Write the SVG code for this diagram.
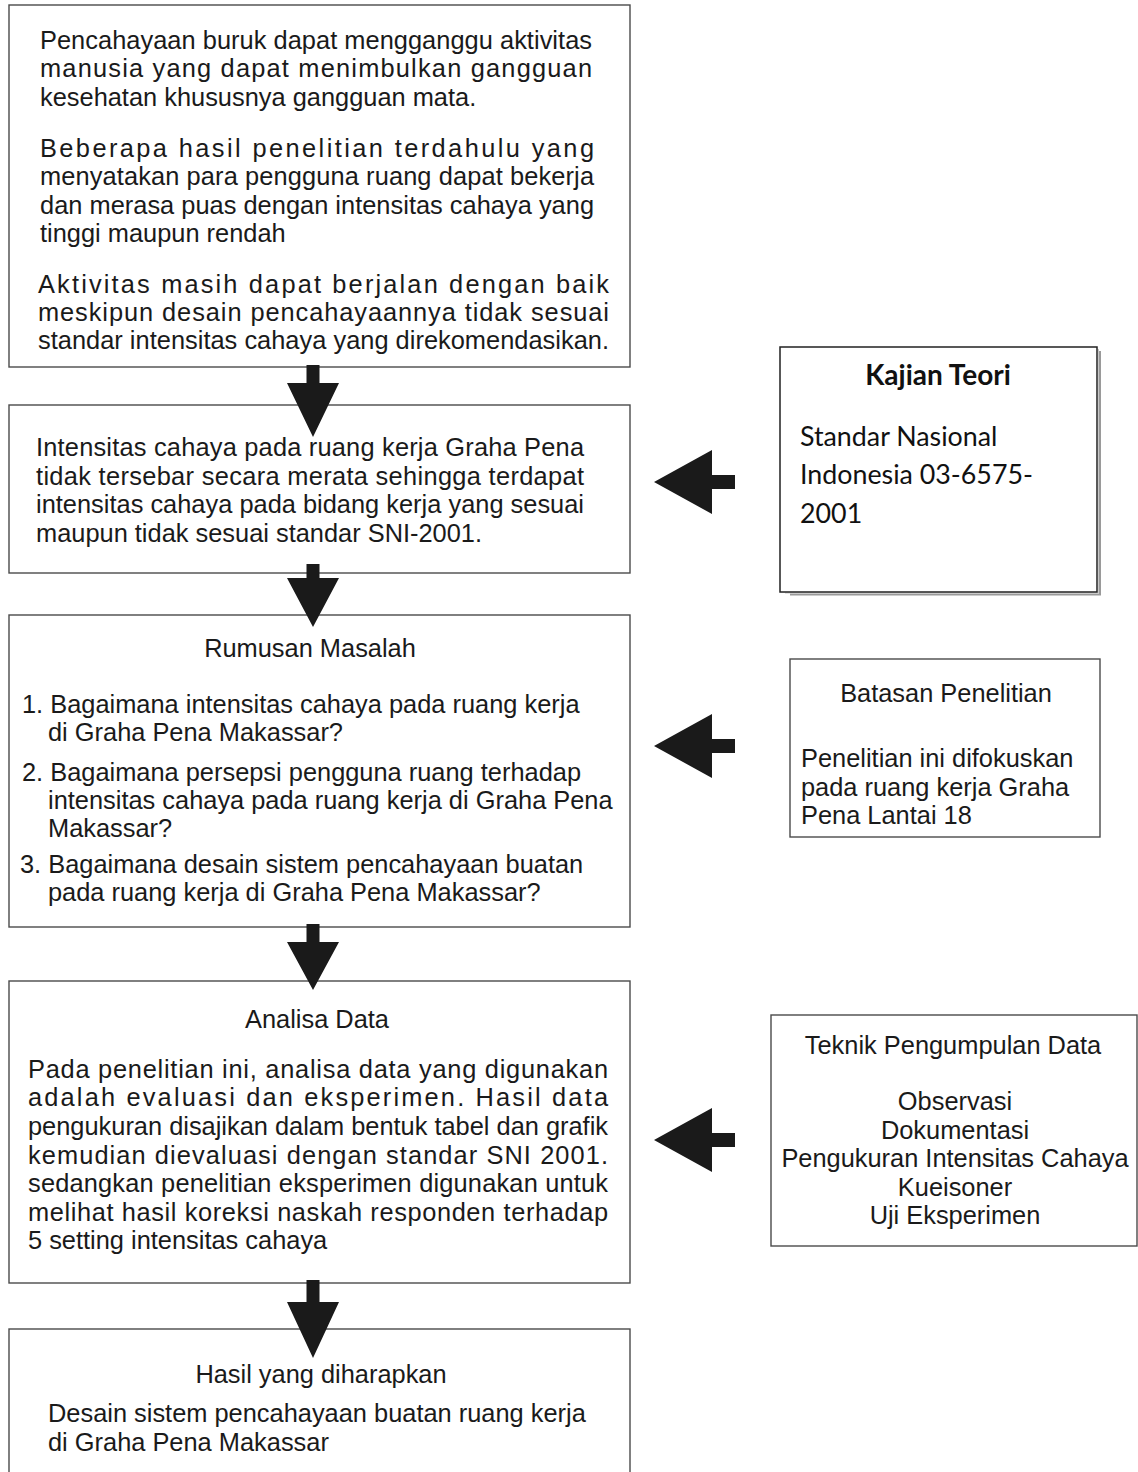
<svg xmlns="http://www.w3.org/2000/svg" width="1138" height="1472" viewBox="0 0 1138 1472">
<style>
.box{fill:#fff;stroke:#4a4a4a;stroke-width:1.4}
.t{font-family:"Liberation Sans",Arial,sans-serif;font-size:25.4px;fill:#1a1a1a}
.c{text-anchor:middle}
.k{font-family:Lato,"Open Sans",sans-serif;font-size:26.8px;fill:#111}
.kb{font-weight:bold;font-size:28px}
.arr{fill:#1a1a1a}
</style>
<rect width="1138" height="1472" fill="#fff"/>
<g id="node-masalah-awal">
<rect class="box" x="9" y="5" width="621" height="362"/>
<text class="t" x="40" y="49" textLength="552" lengthAdjust="spacing">Pencahayaan buruk dapat mengganggu aktivitas</text>
<text class="t" x="40" y="77" textLength="552" lengthAdjust="spacing">manusia yang dapat menimbulkan gangguan</text>
<text class="t" x="40" y="106">kesehatan khususnya gangguan mata.</text>
<text class="t" x="40" y="157" textLength="554" lengthAdjust="spacing">Beberapa hasil penelitian terdahulu yang</text>
<text class="t" x="40" y="185" textLength="554" lengthAdjust="spacing">menyatakan para pengguna ruang dapat bekerja</text>
<text class="t" x="40" y="214" textLength="554" lengthAdjust="spacing">dan merasa puas dengan intensitas cahaya yang</text>
<text class="t" x="40" y="242">tinggi maupun rendah</text>
<text class="t" x="38" y="293" textLength="571" lengthAdjust="spacing">Aktivitas masih dapat berjalan dengan baik</text>
<text class="t" x="38" y="321" textLength="571" lengthAdjust="spacing">meskipun desain pencahayaannya tidak sesuai</text>
<text class="t" x="38" y="349" textLength="571" lengthAdjust="spacing">standar intensitas cahaya yang direkomendasikan.</text>
</g>
<g id="node-kondisi">
<rect class="box" x="9" y="405" width="621" height="168"/>
<text class="t" x="36" y="456" textLength="548" lengthAdjust="spacing">Intensitas cahaya pada ruang kerja Graha Pena</text>
<text class="t" x="36" y="485" textLength="548" lengthAdjust="spacing">tidak tersebar secara merata sehingga terdapat</text>
<text class="t" x="36" y="513" textLength="548" lengthAdjust="spacing">intensitas cahaya pada bidang kerja yang sesuai</text>
<text class="t" x="36" y="542">maupun tidak sesuai standar SNI-2001.</text>
</g>
<g id="node-rumusan">
<rect class="box" x="9" y="615" width="621" height="312"/>
<text class="t c" x="310" y="657">Rumusan Masalah</text>
<text class="t" x="22" y="713">1. Bagaimana intensitas cahaya pada ruang kerja</text>
<text class="t" x="48" y="741">di Graha Pena Makassar?</text>
<text class="t" x="22" y="781">2. Bagaimana persepsi pengguna ruang terhadap</text>
<text class="t" x="48" y="809">intensitas cahaya pada ruang kerja di Graha Pena</text>
<text class="t" x="48" y="837">Makassar?</text>
<text class="t" x="20" y="873">3. Bagaimana desain sistem pencahayaan buatan</text>
<text class="t" x="48" y="901">pada ruang kerja di Graha Pena Makassar?</text>
</g>
<g id="node-analisa">
<rect class="box" x="9" y="981" width="621" height="302"/>
<text class="t c" x="317" y="1028">Analisa Data</text>
<text class="t" x="28" y="1078" textLength="580" lengthAdjust="spacing">Pada penelitian ini, analisa data yang digunakan</text>
<text class="t" x="28" y="1106" textLength="580" lengthAdjust="spacing">adalah evaluasi dan eksperimen. Hasil data</text>
<text class="t" x="28" y="1135" textLength="580" lengthAdjust="spacing">pengukuran disajikan dalam bentuk tabel dan grafik</text>
<text class="t" x="28" y="1164" textLength="580" lengthAdjust="spacing">kemudian dievaluasi dengan standar SNI 2001.</text>
<text class="t" x="28" y="1192" textLength="580" lengthAdjust="spacing">sedangkan penelitian eksperimen digunakan untuk</text>
<text class="t" x="28" y="1221" textLength="580" lengthAdjust="spacing">melihat hasil koreksi naskah responden terhadap</text>
<text class="t" x="28" y="1249">5 setting intensitas cahaya</text>
</g>
<g id="node-hasil">
<rect class="box" x="9" y="1329" width="621" height="160"/>
<text class="t c" x="321" y="1383">Hasil yang diharapkan</text>
<text class="t" x="48" y="1422">Desain sistem pencahayaan buatan ruang kerja</text>
<text class="t" x="48" y="1451">di Graha Pena Makassar</text>
</g>
<g id="node-kajian">
<path d="M1100 351 V594.5 H790" fill="none" stroke="#9a9a9a" stroke-width="2"/>
<path d="M1098.5 349 V593 H785" fill="none" stroke="#c8c8c8" stroke-width="1"/>
<rect x="780" y="347" width="317" height="245" fill="#fff" stroke="#222" stroke-width="1.5"/>
<text class="k kb c" x="938" y="385">Kajian Teori</text>
<text class="k" x="800" y="446">Standar Nasional</text>
<text class="k" x="800" y="484">Indonesia 03-6575-</text>
<text class="k" x="800" y="523">2001</text>
</g>
<g id="node-batasan">
<rect class="box" x="790" y="659" width="310" height="178"/>
<text class="t c" x="946" y="702">Batasan Penelitian</text>
<text class="t" x="801" y="767">Penelitian ini difokuskan</text>
<text class="t" x="801" y="796">pada ruang kerja Graha</text>
<text class="t" x="801" y="824">Pena Lantai 18</text>
</g>
<g id="node-teknik">
<rect class="box" x="771" y="1015" width="366" height="231"/>
<text class="t c" x="953" y="1054">Teknik Pengumpulan Data</text>
<text class="t c" x="955" y="1110">Observasi</text>
<text class="t c" x="955" y="1139">Dokumentasi</text>
<text class="t c" x="955" y="1167">Pengukuran Intensitas Cahaya</text>
<text class="t c" x="955" y="1196">Kueisoner</text>
<text class="t c" x="955" y="1224">Uji Eksperimen</text>
</g>
<g id="connectors">
<path class="arr" d="M306.5 365 H319.5 V383 H339 L313 437 L287 383 H306.5 Z"/>
<path class="arr" d="M306.5 564 H319.5 V578 H339 L313 627 L287 578 H306.5 Z"/>
<path class="arr" d="M306.5 924 H319.5 V942 H339 L313 990 L287 942 H306.5 Z"/>
<path class="arr" d="M306.5 1280 H319.5 V1302 H339 L313 1358 L287 1302 H306.5 Z"/>
<path class="arr" d="M735 475 V489 H712 V514 L654 482 L712 450 V475 Z"/>
<path class="arr" d="M735 739 V753 H712 V778 L654 746 L712 714 V739 Z"/>
<path class="arr" d="M735 1133 V1147 H712 V1172 L654 1140 L712 1108 V1133 Z"/>
</g>
</svg>
